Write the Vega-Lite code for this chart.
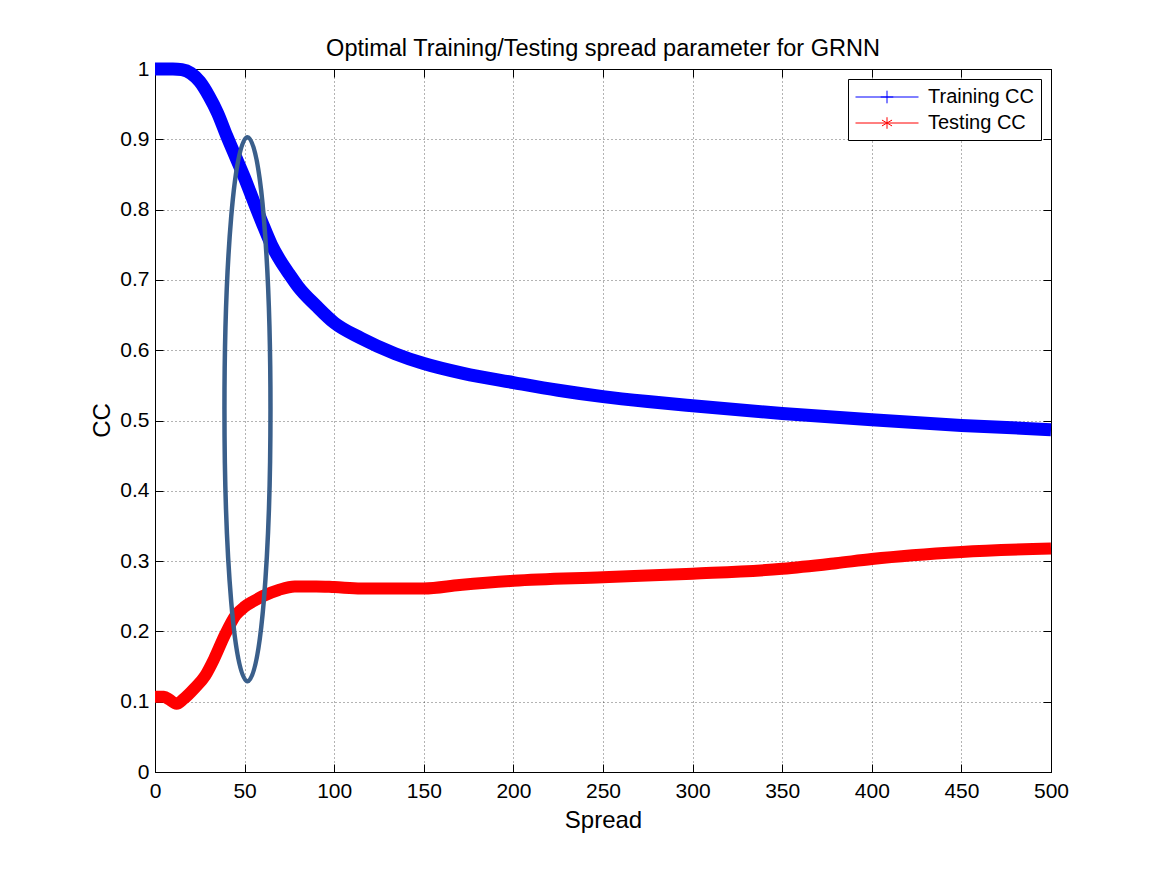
{
  "$schema": "https://vega.github.io/schema/vega-lite/v6.json",
  "width": 896,
  "height": 703,
  "autosize": {"type": "none"},
  "padding": {"left": 155, "top": 69, "right": 109, "bottom": 97},
  "background": "white",
  "title": {"text": "Optimal Training/Testing spread parameter for GRNN", "font": "Liberation Sans", "fontSize": 23.5, "fontWeight": "normal", "color": "black", "anchor": "middle", "offset": -17},
  "config": {
    "view": {"stroke": "black", "strokeWidth": 1},
    "axis": {"labelFont": "Liberation Sans", "titleFont": "Liberation Sans", "labelColor": "black", "titleColor": "black", "domainColor": "black", "tickColor": "black", "labelFontSize": 21, "titleFontSize": 24, "titleFontWeight": "normal"}
  },
  "datasets": {
    "curves": [
      {"spread": 0, "cc": 1.0, "series": "Training CC"},
      {"spread": 10, "cc": 1.0, "series": "Training CC"},
      {"spread": 15, "cc": 0.999, "series": "Training CC"},
      {"spread": 20, "cc": 0.994, "series": "Training CC"},
      {"spread": 25, "cc": 0.982, "series": "Training CC"},
      {"spread": 30, "cc": 0.962, "series": "Training CC"},
      {"spread": 35, "cc": 0.937, "series": "Training CC"},
      {"spread": 40, "cc": 0.905, "series": "Training CC"},
      {"spread": 45, "cc": 0.875, "series": "Training CC"},
      {"spread": 50, "cc": 0.845, "series": "Training CC"},
      {"spread": 55, "cc": 0.812, "series": "Training CC"},
      {"spread": 60, "cc": 0.78, "series": "Training CC"},
      {"spread": 65, "cc": 0.75, "series": "Training CC"},
      {"spread": 70, "cc": 0.727, "series": "Training CC"},
      {"spread": 75, "cc": 0.708, "series": "Training CC"},
      {"spread": 80, "cc": 0.69, "series": "Training CC"},
      {"spread": 90, "cc": 0.663, "series": "Training CC"},
      {"spread": 100, "cc": 0.639, "series": "Training CC"},
      {"spread": 115, "cc": 0.617, "series": "Training CC"},
      {"spread": 134, "cc": 0.595, "series": "Training CC"},
      {"spread": 150, "cc": 0.581, "series": "Training CC"},
      {"spread": 172, "cc": 0.567, "series": "Training CC"},
      {"spread": 200, "cc": 0.554, "series": "Training CC"},
      {"spread": 225, "cc": 0.543, "series": "Training CC"},
      {"spread": 250, "cc": 0.534, "series": "Training CC"},
      {"spread": 275, "cc": 0.527, "series": "Training CC"},
      {"spread": 300, "cc": 0.521, "series": "Training CC"},
      {"spread": 350, "cc": 0.51, "series": "Training CC"},
      {"spread": 400, "cc": 0.501, "series": "Training CC"},
      {"spread": 450, "cc": 0.493, "series": "Training CC"},
      {"spread": 500, "cc": 0.487, "series": "Training CC"},
      {"spread": 0, "cc": 0.107, "series": "Testing CC"},
      {"spread": 5, "cc": 0.107, "series": "Testing CC"},
      {"spread": 8, "cc": 0.103, "series": "Testing CC"},
      {"spread": 12, "cc": 0.097, "series": "Testing CC"},
      {"spread": 16, "cc": 0.104, "series": "Testing CC"},
      {"spread": 22, "cc": 0.119, "series": "Testing CC"},
      {"spread": 28, "cc": 0.137, "series": "Testing CC"},
      {"spread": 33, "cc": 0.161, "series": "Testing CC"},
      {"spread": 39, "cc": 0.195, "series": "Testing CC"},
      {"spread": 45, "cc": 0.223, "series": "Testing CC"},
      {"spread": 50, "cc": 0.235, "series": "Testing CC"},
      {"spread": 55, "cc": 0.243, "series": "Testing CC"},
      {"spread": 60, "cc": 0.25, "series": "Testing CC"},
      {"spread": 69, "cc": 0.259, "series": "Testing CC"},
      {"spread": 78, "cc": 0.264, "series": "Testing CC"},
      {"spread": 90, "cc": 0.264, "series": "Testing CC"},
      {"spread": 100, "cc": 0.263, "series": "Testing CC"},
      {"spread": 115, "cc": 0.261, "series": "Testing CC"},
      {"spread": 150, "cc": 0.261, "series": "Testing CC"},
      {"spread": 170, "cc": 0.266, "series": "Testing CC"},
      {"spread": 200, "cc": 0.272, "series": "Testing CC"},
      {"spread": 250, "cc": 0.277, "series": "Testing CC"},
      {"spread": 300, "cc": 0.282, "series": "Testing CC"},
      {"spread": 350, "cc": 0.289, "series": "Testing CC"},
      {"spread": 380, "cc": 0.297, "series": "Testing CC"},
      {"spread": 400, "cc": 0.303, "series": "Testing CC"},
      {"spread": 450, "cc": 0.313, "series": "Testing CC"},
      {"spread": 500, "cc": 0.318, "series": "Testing CC"}
    ],
    "annotation": [
      {"spread": 51.6, "cc": 0.516}
    ]
  },
  "layer": [
    {
      "data": {"name": "curves"},
      "transform": [{"filter": "datum.series === 'Training CC'"}],
      "mark": {"type": "line", "strokeWidth": 13, "interpolate": "monotone", "strokeCap": "butt", "color": "#0000ff", "clip": false},
      "encoding": {
        "x": {"field": "spread", "type": "quantitative", "scale": {"domain": [0, 500], "nice": false, "zero": false},
          "axis": {"orient": "bottom", "title": "Spread", "values": [0, 50, 100, 150, 200, 250, 300, 350, 400, 450, 500], "tickSize": -8, "labelPadding": 16, "grid": true, "gridColor": "black", "gridDash": [1, 3], "gridOpacity": 0.6, "titleY": 48, "titleBaseline": "middle", "labelFlush": false}},
        "y": {"field": "cc", "type": "quantitative", "scale": {"domain": [0, 1], "nice": false, "zero": false},
          "axis": {"orient": "left", "title": "CC", "values": [0, 0.1, 0.2, 0.3, 0.4, 0.5, 0.6, 0.7, 0.8, 0.9, 1], "format": "~g", "tickSize": -8, "labelPadding": 14, "grid": true, "gridColor": "black", "gridDash": [1, 3], "gridOpacity": 0.6, "titleX": -53, "titleY": 351, "titleBaseline": "middle", "labelFlush": false}}
      }
    },
    {
      "data": {"name": "curves"},
      "transform": [{"filter": "datum.series === 'Testing CC'"}],
      "mark": {"type": "line", "strokeWidth": 12, "interpolate": "monotone", "strokeCap": "butt", "color": "#ff0000", "clip": false},
      "encoding": {
        "x": {"field": "spread", "type": "quantitative", "axis": null},
        "y": {"field": "cc", "type": "quantitative", "axis": null}
      }
    },
    {
      "data": {"name": "curves"},
      "mark": {"type": "point", "opacity": 0, "filled": false},
      "encoding": {
        "x": {"field": "spread", "type": "quantitative", "axis": null},
        "y": {"field": "cc", "type": "quantitative", "axis": null},
        "color": {"field": "series", "type": "nominal", "scale": {"domain": ["Training CC", "Testing CC"], "range": ["#0000ff", "#ff0000"]},
          "legend": {"title": null, "orient": "top-right", "offset": 10, "strokeColor": "black", "fillColor": "white", "padding": 7, "rowPadding": 5, "labelFont": "Liberation Sans", "labelFontSize": 20, "labelColor": "black", "labelOffset": 51, "symbolSize": 441, "symbolStrokeWidth": 1, "symbolOpacity": 1, "cornerRadius": 0}},
        "shape": {"field": "series", "type": "nominal", "scale": {"domain": ["Training CC", "Testing CC"], "range": ["M-1,0 H5 M2,-0.6 V0.6 M1.4,0 H2.6", "M-1,0 H5 M2,-0.55 V0.55 M1.52,-0.28 L2.48,0.28 M1.52,0.28 L2.48,-0.28"]},
          "legend": {"title": null, "orient": "top-right", "offset": 10, "strokeColor": "black", "fillColor": "white", "padding": 7, "rowPadding": 5, "labelFont": "Liberation Sans", "labelFontSize": 20, "labelColor": "black", "labelOffset": 51, "symbolSize": 441, "symbolStrokeWidth": 1, "symbolOpacity": 1, "cornerRadius": 0}}
      }
    },
    {
      "data": {"name": "annotation"},
      "mark": {"type": "point", "filled": false, "stroke": "#3a5f8b", "strokeWidth": 4.5, "opacity": 1, "size": 295936, "clip": false,
        "shape": "M0,-1 C0.0467,-1 0.0846,-0.5523 0.0846,0 C0.0846,0.5523 0.0467,1 0,1 C-0.0467,1 -0.0846,0.5523 -0.0846,0 C-0.0846,-0.5523 -0.0467,-1 0,-1 Z"},
      "encoding": {
        "x": {"field": "spread", "type": "quantitative", "axis": {"orient": "top", "labels": false, "title": null, "values": [0, 50, 100, 150, 200, 250, 300, 350, 400, 450, 500], "tickSize": -8, "grid": false}},
        "y": {"field": "cc", "type": "quantitative", "axis": {"orient": "right", "labels": false, "title": null, "values": [0, 0.1, 0.2, 0.3, 0.4, 0.5, 0.6, 0.7, 0.8, 0.9, 1], "tickSize": -8, "grid": false}}
      }
    }
  ],
  "resolve": {"axis": {"x": "independent", "y": "independent"}}
}
